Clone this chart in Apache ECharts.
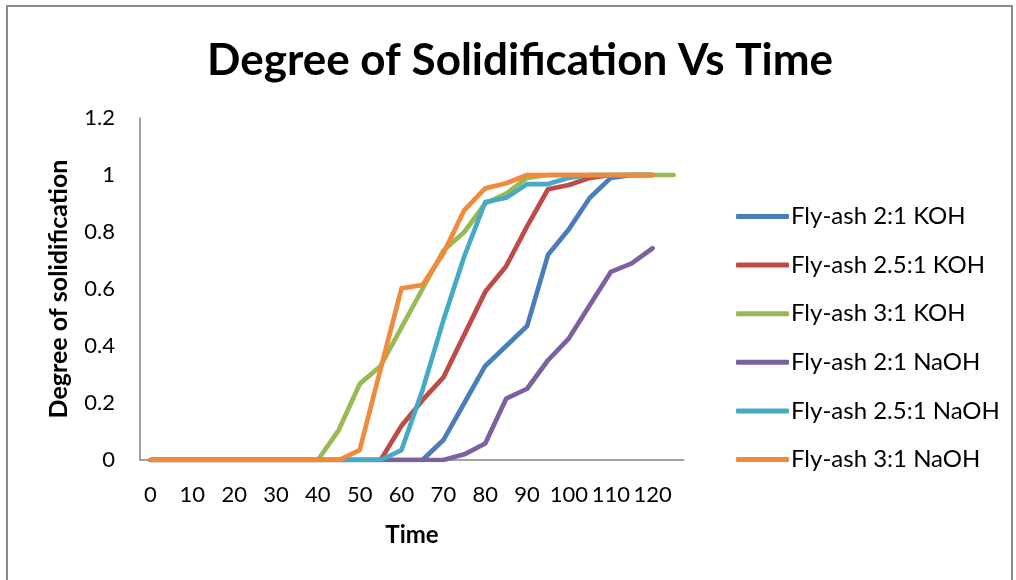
<!DOCTYPE html>
<html>
<head>
<meta charset="utf-8">
<script src="https://cdn.jsdelivr.net/npm/echarts@6/dist/echarts.min.js"></script>
<style>
html,body{margin:0;padding:0;background:#fff;}
#chart{width:1016px;height:580px;}
</style>
</head>
<body>
<div id="chart"></div>
<script>
var times = ['0','5','10','15','20','25','30','35','40','45','50','55','60','65','70','75','80','85','90','95','100','105','110','115','120','125'];
var seriesNames = ['Fly-ash 2:1 KOH','Fly-ash 2.5:1 KOH','Fly-ash 3:1 KOH','Fly-ash 2:1 NaOH','Fly-ash 2.5:1 NaOH','Fly-ash 3:1 NaOH'];
var koh2  = [0,0,0,0,0,0,0,0,0,0,0,0,0,0,0.07,0.20,0.33,0.40,0.47,0.72,0.81,0.92,0.99,1,1];
var koh25 = [0,0,0,0,0,0,0,0,0,0,0,0,0.12,0.21,0.29,0.44,0.59,0.68,0.82,0.95,0.965,0.99,1,1,1];
var koh3  = [0,0,0,0,0,0,0,0,0,0.105,0.267,0.33,0.465,0.60,0.735,0.80,0.90,0.935,0.99,1,1,1,1,1,1,1];
var naoh2 = [0,0,0,0,0,0,0,0,0,0,0,0,0,0,0,0.02,0.058,0.215,0.25,0.35,0.427,0.544,0.66,0.69,0.743];
var naoh25= [0,0,0,0,0,0,0,0,0,0,0,0,0.035,0.245,0.49,0.715,0.905,0.92,0.968,0.968,0.99,1,1,1,1];
var naoh3 = [0,0,0,0,0,0,0,0,0,0,0.035,0.32,0.602,0.614,0.725,0.877,0.953,0.971,1,1,1,1,1,1,1];
var yTicks = {min:0, max:1.2, interval:0.2};

var values = [koh2, koh25, koh3, naoh2, naoh25, naoh3];
var colors = ['#4A7EBB','#BE4B48','#98B954','#7D60A0','#46AAC5','#F08A3C'];
var FONT = 'Lato';

var chart = echarts.init(document.getElementById('chart'), null, {renderer:'canvas'});
var series = seriesNames.map(function(n,i){
  return {
    name:n, type:'line', data:values[i], symbol:'none', smooth:false,
    lineStyle:{width:4.7, color:colors[i], cap:'round', join:'round'},
    itemStyle:{color:colors[i]},
    animation:false
  };
});
chart.setOption({
  animation:false,
  backgroundColor:'#fff',
  graphic:[{type:'rect', shape:{x:7,y:6,width:1005,height:600}, style:{fill:'none', stroke:'#8a8a8a', lineWidth:2}, silent:true}],
  title:{text:'Degree of Solidification Vs Time', left:515, top:34, textAlign:'center',
    textStyle:{fontFamily:FONT, fontWeight:'bold', fontSize:44, color:'#000'}},
  grid:{left:140, right:332, top:118, bottom:120, containLabel:false},
  legend:{orient:'vertical', left:731, top:198, icon:'roundRect', itemWidth:53, itemHeight:5, itemGap:21.6,
    textStyle:{fontFamily:FONT, fontSize:24, color:'#000', lineHeight:27, padding:[0,0,0,-3]},
    data:seriesNames},
  xAxis:{type:'category', data:times, boundaryGap:true,
    name:'Time', nameLocation:'middle', nameGap:63,
    nameTextStyle:{fontFamily:FONT, fontWeight:'bold', fontSize:24, color:'#000'},
    axisLine:{lineStyle:{color:'#868686', width:1.5}}, axisTick:{show:false},
    axisLabel:{interval:1, fontFamily:FONT, fontSize:22, color:'#000', margin:24}},
  yAxis:{type:'value', min:yTicks.min, max:yTicks.max, interval:yTicks.interval,
    name:'Degree of solidification', nameLocation:'middle', nameGap:69, nameRotate:90,
    nameTextStyle:{fontFamily:FONT, fontWeight:'bold', fontSize:25, color:'#000'},
    axisLine:{show:true, lineStyle:{color:'#868686', width:1.5}}, axisTick:{show:false},
    splitLine:{show:false},
    axisLabel:{fontFamily:FONT, fontSize:22, color:'#000', margin:25,
      formatter:function(v){return String(Math.round(v*10)/10);}}},
  series:series
});
</script>
</body>
</html>
